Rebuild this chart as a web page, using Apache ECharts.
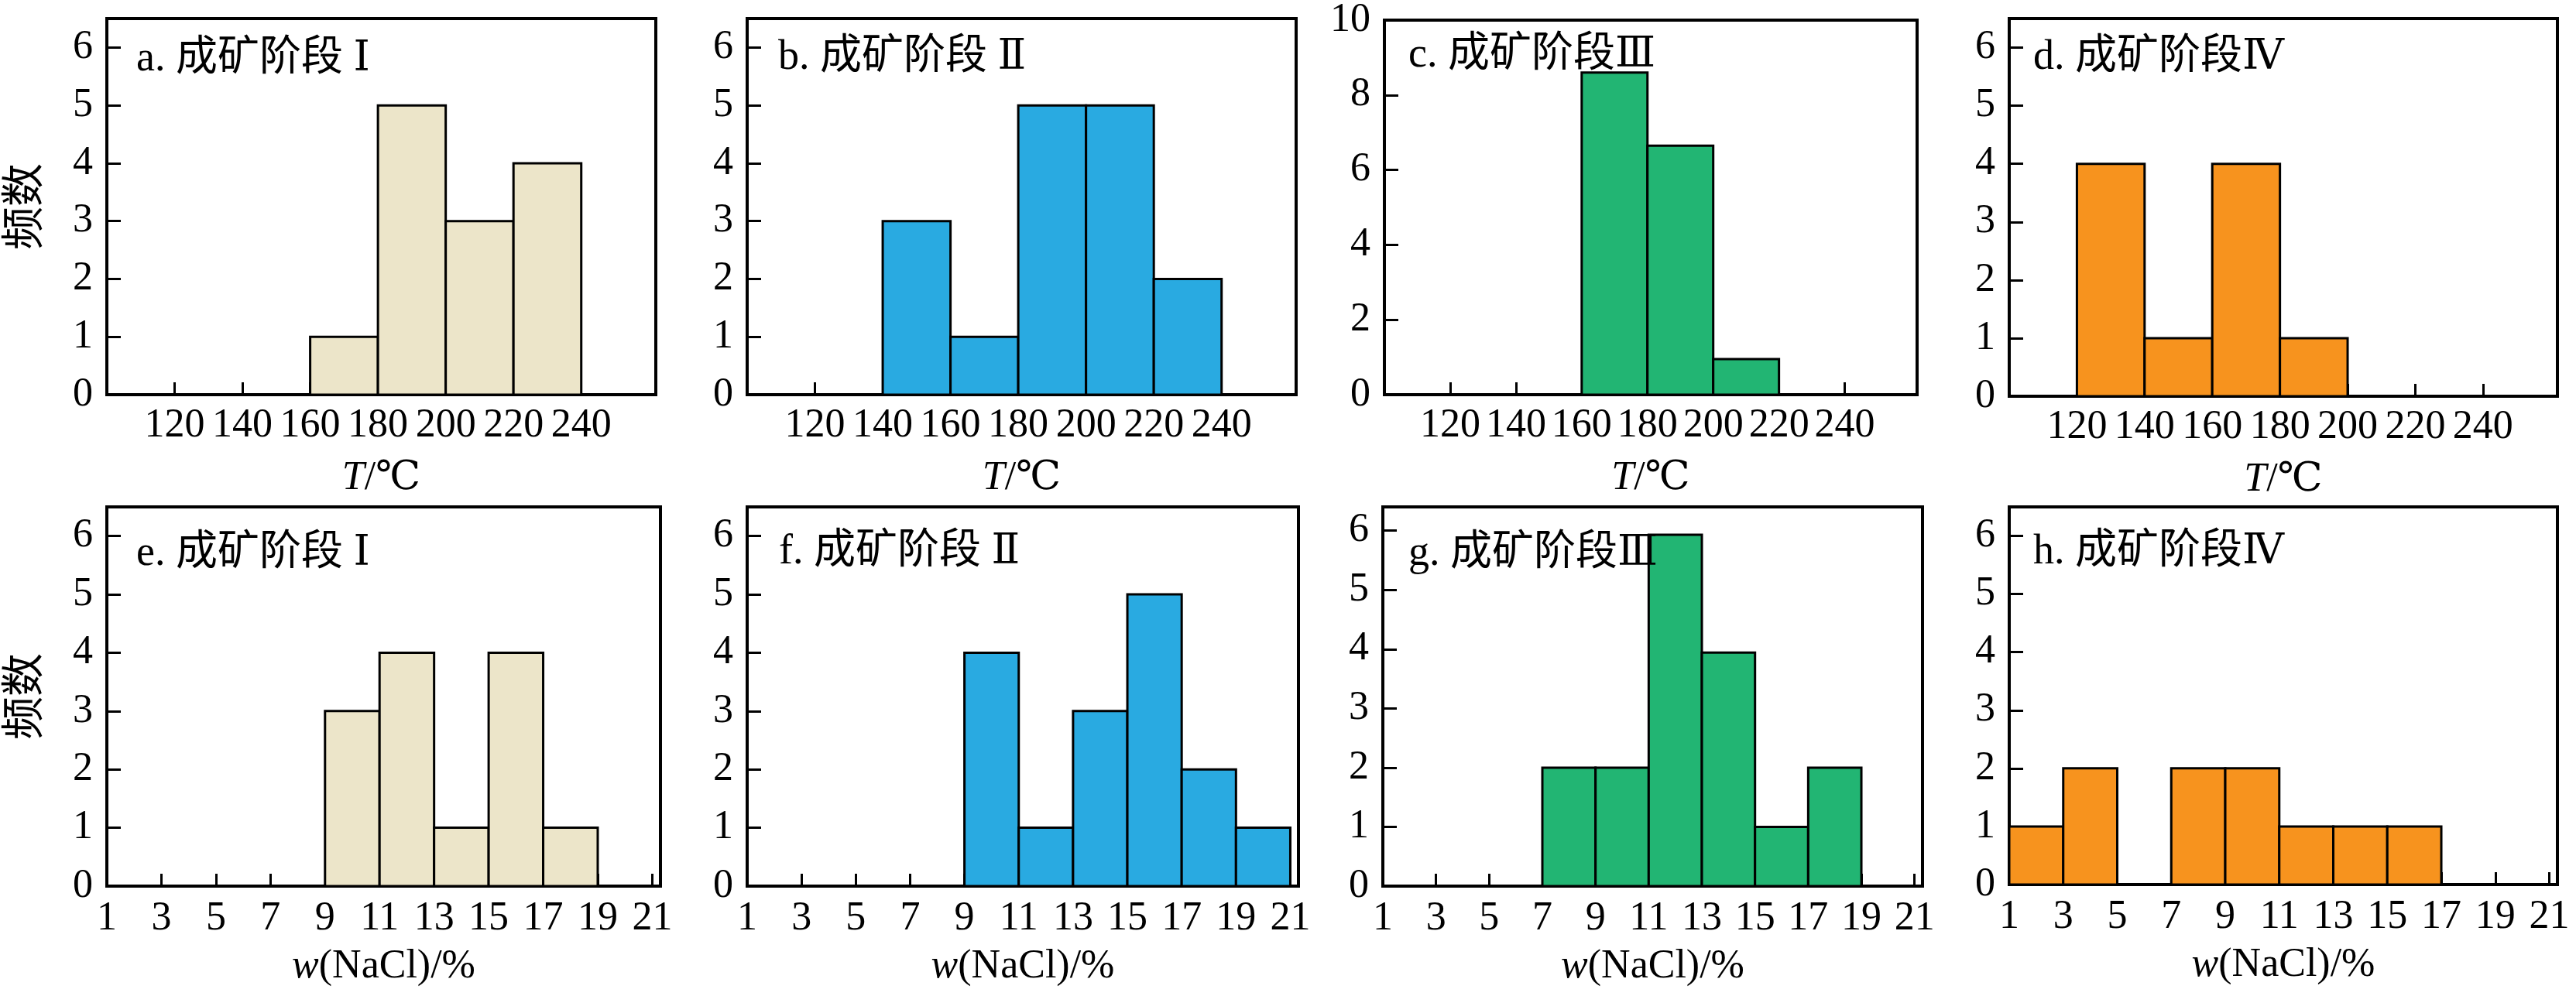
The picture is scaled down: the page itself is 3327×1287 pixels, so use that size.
<!DOCTYPE html>
<html>
<head>
<meta charset="utf-8">
<script src="https://cdn.jsdelivr.net/npm/echarts@6/dist/echarts.min.js"></script>
<style>
html,body{margin:0;padding:0;background:#fff;}
#c{width:3327px;height:1287px;}
</style>
</head>
<body>
<div id="c"></div>
<script>
// ---- data ----
const tBinStarts = [120, 140, 160, 180, 200, 220];
const tBinWidth = 20;
const wBinStarts = [1, 3, 5, 7, 9, 11, 13, 15, 17, 19];
const wBinWidth = 2;

const countsA = [0, 0, 1, 5, 3, 4];
const countsB = [0, 3, 1, 5, 5, 2];
const countsC = [0, 0, 8.6, 6.65, 0.95, 0];
const countsD = [4, 1, 4, 1, 0, 0];

const countsE = [0, 0, 0, 0, 3, 4, 1, 4, 1, 0];
const countsF = [0, 0, 0, 0, 4, 1, 3, 5, 2, 1];
const countsG = [0, 0, 0, 2, 2, 5.93, 3.94, 1, 2, 0];
const countsH = [1, 2, 0, 2, 2, 1, 1, 1, 0, 0];

const tTicks = [120, 140, 160, 180, 200, 220, 240];
const wTicks = [1, 3, 5, 7, 9, 11, 13, 15, 17, 19, 21];
const yTicks6 = [0, 1, 2, 3, 4, 5, 6];
const yTicks10 = [0, 2, 4, 6, 8, 10];

const panelTitles = ['a. 成矿阶段 Ⅰ', 'b. 成矿阶段 Ⅱ', 'c. 成矿阶段Ⅲ', 'd. 成矿阶段Ⅳ',
                     'e. 成矿阶段 Ⅰ', 'f. 成矿阶段 Ⅱ', 'g. 成矿阶段Ⅲ', 'h. 成矿阶段Ⅳ'];
const yAxisName = '频数';

// ---- styling / layout ----
const FONT = '"Liberation Serif", "DejaVu Serif", "Noto Sans CJK SC", serif';
const colors = ['#ECE5C9', '#29AAE1', '#22B573', '#F7931E'];
const FS = 52;

const panels = [
  {counts: countsA, starts: tBinStarts, bw: tBinWidth, color: colors[0], kind: 't', yMax: 6.5, yTicks: yTicks6, grid: {left: 138, top: 24, width: 709, height: 486}, tdx: 38, tdy: 26, yName: true},
  {counts: countsB, starts: tBinStarts, bw: tBinWidth, color: colors[1], kind: 't', yMax: 6.5, yTicks: yTicks6, grid: {left: 965, top: 24, width: 709, height: 486}, tdx: 40, tdy: 24},
  {counts: countsC, starts: tBinStarts, bw: tBinWidth, color: colors[2], kind: 't', yMax: 10, yTicks: yTicks10, grid: {left: 1788, top: 23, width: 688, height: 487}, tdx: 31, tdy: 22},
  {counts: countsD, starts: tBinStarts, bw: tBinWidth, color: colors[3], kind: 't', yMax: 6.5, yTicks: yTicks6, grid: {left: 2595, top: 24, width: 708, height: 488}, tdx: 31, tdy: 24},
  {counts: countsE, starts: wBinStarts, bw: wBinWidth, color: colors[0], kind: 'w', yMax: 6.5, yTicks: yTicks6, grid: {left: 138, top: 655, width: 715, height: 490}, tdx: 38, tdy: 34, yName: true},
  {counts: countsF, starts: wBinStarts, bw: wBinWidth, color: colors[1], kind: 'w', yMax: 6.5, yTicks: yTicks6, grid: {left: 965, top: 655, width: 712, height: 490}, tdx: 41, tdy: 32},
  {counts: countsG, starts: wBinStarts, bw: wBinWidth, color: colors[2], kind: 'w', yMax: 6.4, yTicks: yTicks6, grid: {left: 1786, top: 655, width: 697, height: 490}, tdx: 33, tdy: 34},
  {counts: countsH, starts: wBinStarts, bw: wBinWidth, color: colors[3], kind: 'w', yMax: 6.5, yTicks: yTicks6, grid: {left: 2595, top: 655, width: 708, height: 488}, tdx: 31, tdy: 32}
];

const option = {
  animation: false,
  backgroundColor: '#fff',
  grid: [], xAxis: [], yAxis: [], series: [], title: []
};

panels.forEach((p, i) => {
  option.grid.push(Object.assign({show: true, borderColor: '#000', borderWidth: 4, backgroundColor: 'transparent'}, p.grid));
  const isT = p.kind === 't';
  option.xAxis.push({
    type: 'value', gridIndex: i,
    min: isT ? 100 : 1,
    max: isT ? 262 : 21.3,
    splitLine: {show: false},
    axisLine: {show: true, lineStyle: {color: '#000', width: 4}},
    axisTick: {show: true, inside: true, length: 16, lineStyle: {color: '#000', width: 3},
               customValues: isT ? tTicks : wTicks},
    axisLabel: {show: true, color: '#000', fontFamily: FONT, fontSize: FS, margin: isT ? 14 : 16,
                customValues: isT ? tTicks : wTicks},
    name: isT ? '{i|T}/℃' : '{i|w}(NaCl)/%',
    nameLocation: 'middle',
    nameGap: isT ? 82 : 78,
    nameTextStyle: {color: '#000', fontFamily: FONT, fontSize: FS,
      rich: {i: {fontStyle: 'italic', fontFamily: FONT, fontSize: FS, color: '#000'}}}
  });
  option.yAxis.push({
    type: 'value', gridIndex: i,
    min: 0, max: p.yMax,
    splitLine: {show: false},
    axisLine: {show: true, lineStyle: {color: '#000', width: 4}},
    axisTick: {show: true, inside: true, length: 18, lineStyle: {color: '#000', width: 3},
               customValues: p.yTicks},
    axisLabel: {show: true, color: '#000', fontFamily: FONT, fontSize: FS, margin: 18,
                customValues: p.yTicks},
    name: p.yName ? yAxisName : '',
    nameLocation: 'middle',
    nameGap: 76,
    nameRotate: 90,
    nameTextStyle: {color: '#000', fontFamily: FONT, fontSize: 56}
  });
  const data = [];
  p.starts.forEach((s, k) => {
    if (p.counts[k] > 0) data.push([s, s + p.bw, p.counts[k]]);
  });
  const col = p.color;
  option.series.push({
    type: 'custom', xAxisIndex: i, yAxisIndex: i,
    encode: {x: [0, 1], y: 2},
    clip: true,
    data: data,
    renderItem: function (params, api) {
      const a = api.coord([api.value(0), api.value(2)]);
      const b = api.coord([api.value(1), 0]);
      return {
        type: 'rect',
        shape: {x: a[0], y: a[1], width: b[0] - a[0], height: b[1] - a[1]},
        style: {fill: col, stroke: '#000', lineWidth: 3}
      };
    }
  });
  option.title.push({
    text: panelTitles[i],
    left: p.grid.left + p.tdx,
    top: p.grid.top + p.tdy,
    padding: 0,
    textStyle: {color: '#000', fontFamily: FONT, fontSize: 54, fontWeight: 'normal'}
  });
});

const chart = echarts.init(document.getElementById('c'), null, {renderer: 'canvas', width: 3327, height: 1287});
chart.setOption(option);
</script>
</body>
</html>
